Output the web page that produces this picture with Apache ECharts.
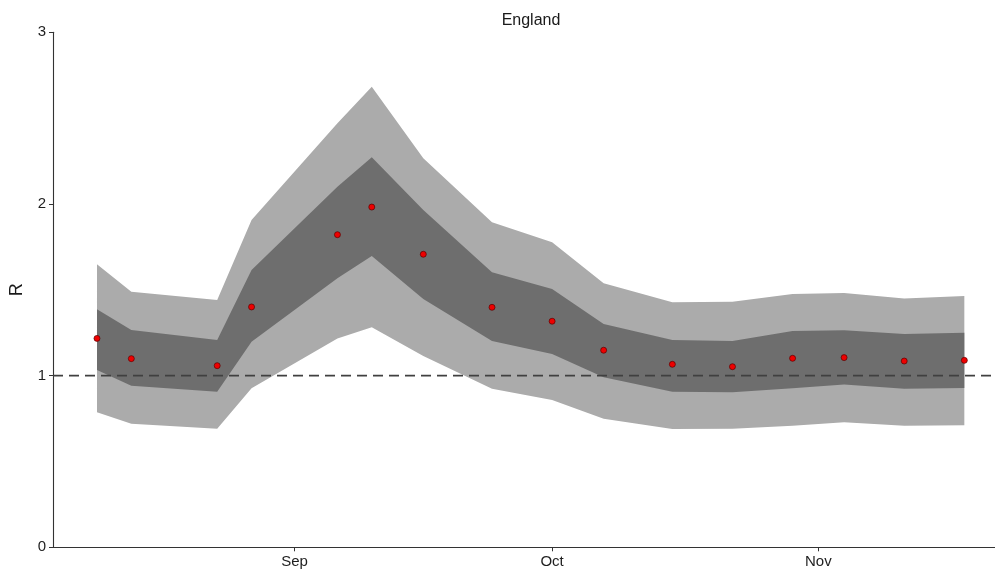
<!DOCTYPE html>
<html>
<head>
<meta charset="utf-8">
<script src="https://cdn.jsdelivr.net/npm/echarts@6/dist/echarts.min.js"></script>
<style>html,body{margin:0;padding:0;background:#fff}#c{width:995px;height:574px}</style>
</head>
<body>
<div id="c"></div>
<script>
var dates = ['2020-08-09','2020-08-13','2020-08-23','2020-08-27','2020-09-06','2020-09-10','2020-09-16','2020-09-24','2020-10-01','2020-10-07','2020-10-15','2020-10-22','2020-10-29','2020-11-04','2020-11-11','2020-11-18'];
var rMedian = [1.217,1.099,1.058,1.400,1.821,1.982,1.707,1.398,1.317,1.148,1.066,1.052,1.101,1.105,1.085,1.089];
var outerLow = [0.786,0.720,0.691,0.926,1.217,1.282,1.114,0.924,0.858,0.749,0.689,0.691,0.708,0.728,0.708,0.711];
var outerHigh = [1.649,1.489,1.441,1.907,2.470,2.683,2.266,1.893,1.777,1.538,1.427,1.431,1.476,1.481,1.450,1.464];
var innerLow = [1.033,0.941,0.906,1.198,1.567,1.697,1.446,1.202,1.126,0.990,0.906,0.903,0.926,0.949,0.924,0.928];
var innerHigh = [1.386,1.266,1.208,1.615,2.100,2.272,1.965,1.602,1.505,1.301,1.208,1.202,1.260,1.264,1.243,1.250];
var monthTicks = ['2020-09-01','2020-10-01','2020-11-01'];
var monthLabels = ['Sep','Oct','Nov'];
var yTicks = [0,1,2,3];
var refLine = 1;
var title = 'England';
var yName = 'R';

function ts(d){ var p = d.split('-'); return Date.UTC(+p[0], +p[1]-1, +p[2]); }
var tDates = dates.map(ts);
var tTicks = monthTicks.map(ts);
var labelMap = {};
tTicks.forEach(function(t,i){ labelMap[t] = monthLabels[i]; });

function bandSeries(lo, hi, color, z){
  return {
    type: 'custom',
    z: z,
    silent: true,
    clip: true,
    data: tDates.map(function(t,i){ return [t, lo[i], hi[i]]; }),
    renderItem: function(params, api){
      if (params.dataIndex !== 0) return null;
      var pts = [];
      for (var i = 0; i < tDates.length; i++) pts.push(api.coord([tDates[i], hi[i]]));
      for (var j = tDates.length - 1; j >= 0; j--) pts.push(api.coord([tDates[j], lo[j]]));
      return { type: 'polygon', shape: { points: pts }, style: { fill: color, stroke: null } };
    }
  };
}

var xMin = Date.UTC(2020,7,4) - 0.12*86400000;
var xMax = Date.UTC(2020,10,21) + 13.7*3600000;

var chart = echarts.init(document.getElementById('c'), null, {renderer:'canvas'});
chart.setOption({
  animation: false,
  backgroundColor: '#ffffff',
  textStyle: { fontFamily: 'Liberation Sans, Arial, sans-serif' },
  title: {
    text: title, left: 526, top: 8, textAlign: 'center',
    textStyle: { fontSize: 16, fontWeight: 'normal', color: '#1a1a1a', fontFamily: 'Liberation Sans, Arial, sans-serif' }
  },
  grid: { left: 53, right: 0, top: 32.3, bottom: 26.7, containLabel: false },
  xAxis: {
    type: 'value', min: xMin, max: xMax, scale: true,
    axisLine: { show: true, lineStyle: { color: '#333', width: 1.1 } },
    axisTick: { show: true, length: 4, lineStyle: { color: '#333' }, customValues: tTicks },
    axisLabel: { show: true, customValues: tTicks, color: '#1e1e1e', fontSize: 15, margin: 7,
      formatter: function(v){ return labelMap[v] || ''; } },
    splitLine: { show: false }
  },
  yAxis: {
    type: 'value', min: yTicks[0], max: yTicks[yTicks.length-1], interval: 1,
    name: yName, nameLocation: 'middle', nameGap: 27, nameRotate: 90,
    nameTextStyle: { fontSize: 18, color: '#1a1a1a' },
    axisLine: { show: true, lineStyle: { color: '#333', width: 1.1 } },
    axisTick: { show: true, length: 4, lineStyle: { color: '#333' } },
    axisLabel: { color: '#1e1e1e', fontSize: 15, margin: 7 },
    splitLine: { show: false }
  },
  series: [
    bandSeries(outerLow, outerHigh, '#ababab', 1),
    bandSeries(innerLow, innerHigh, '#6e6e6e', 2),
    {
      type: 'line', z: 3, silent: true, symbol: 'none',
      data: [[xMin, refLine],[xMax, refLine]],
      lineStyle: { color: '#404040', width: 1.6, type: [10, 6] }
    },
    {
      type: 'scatter', z: 4, silent: true,
      data: tDates.map(function(t,i){ return [t, rMedian[i]]; }),
      symbol: 'circle', symbolSize: 6,
      itemStyle: { color: '#ee0000', borderColor: '#5a0000', borderWidth: 0.7, opacity: 1 }
    }
  ]
});
</script>
</body>
</html>
